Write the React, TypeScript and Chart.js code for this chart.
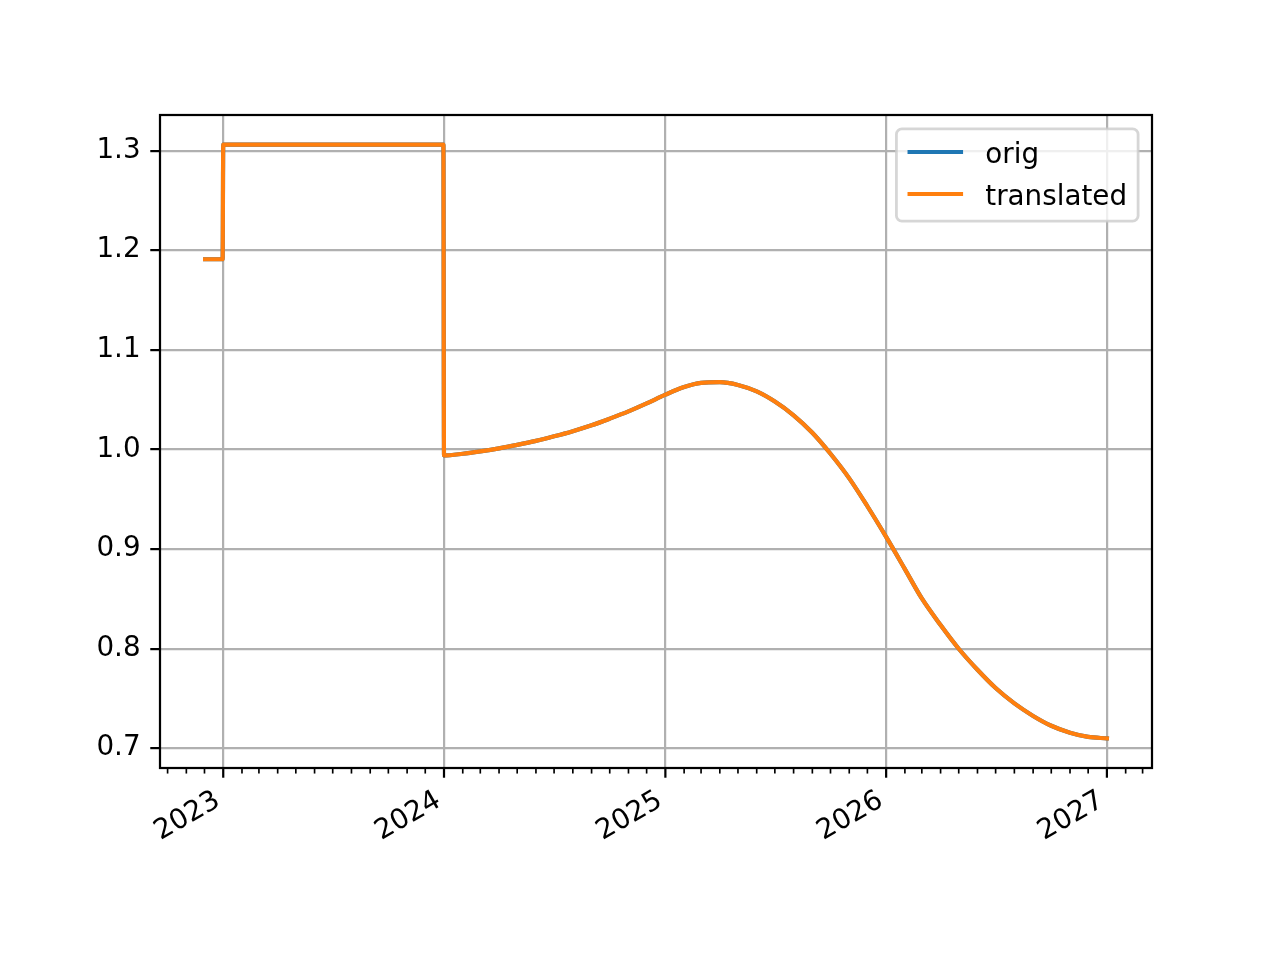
import React, { useEffect, useRef } from "react";
import { Chart, registerables } from "chart.js";

Chart.register(...registerables);

// ---- data ----
const dates = [
  "2022-12-02", "2022-12-31", "2023-01-01", "2023-12-31",
  "2024-01-01", "2024-02-01", "2024-03-01", "2024-04-01", "2024-05-01", "2024-06-01",
  "2024-07-01", "2024-08-01", "2024-09-01", "2024-10-01", "2024-11-01", "2024-12-01",
  "2025-01-01", "2025-02-01", "2025-03-01", "2025-04-01", "2025-05-01", "2025-06-01",
  "2025-07-01", "2025-08-01", "2025-09-01", "2025-10-01", "2025-11-01", "2025-12-01",
  "2026-01-01", "2026-02-01", "2026-03-01", "2026-04-01", "2026-05-01", "2026-06-01",
  "2026-07-01", "2026-08-01", "2026-09-01", "2026-10-01", "2026-11-01", "2026-12-01",
  "2027-01-01",
];

const origValues = [
  1.191, 1.191, 1.306, 1.306,
  0.994, 0.9957, 0.9981, 1.0011, 1.0046, 1.0086,
  1.0132, 1.0184, 1.0243, 1.0309, 1.0382, 1.0462,
  1.055, 1.0627, 1.0669, 1.0676, 1.0648, 1.0583,
  1.0481, 1.0343, 1.0168, 0.9957, 0.971, 0.943,
  0.9122, 0.8799, 0.8504, 0.8237, 0.7999, 0.7788,
  0.7605, 0.7451, 0.7325, 0.7226, 0.7156, 0.7114,
  0.71,
];

const translatedValues = [
  1.191, 1.191, 1.306, 1.306,
  0.994, 0.9957, 0.9981, 1.0011, 1.0046, 1.0086,
  1.0132, 1.0184, 1.0243, 1.0309, 1.0382, 1.0462,
  1.055, 1.0627, 1.0669, 1.0676, 1.0648, 1.0583,
  1.0481, 1.0343, 1.0168, 0.9957, 0.971, 0.943,
  0.9122, 0.8799, 0.8504, 0.8237, 0.7999, 0.7788,
  0.7605, 0.7451, 0.7325, 0.7226, 0.7156, 0.7114,
  0.71,
];

const yTickValues = [0.7, 0.8, 0.9, 1.0, 1.1, 1.2, 1.3];
const seriesNames = ["orig", "translated"];
const seriesColors = ["#1f77b4", "#ff7f0e"];

// ---- styling (matplotlib defaults at 200 dpi) ----
const PT = 200 / 72;
const FS = 10 * PT;
const FONT_FAMILY = "'DejaVu Sans', sans-serif";
const FONT = `${FS}px ${FONT_FAMILY}`;
const GRID_COLOR = "#b0b0b0";

const toMs = (s: string) => Date.parse(s + "T00:00:00Z");
const isJan = (v: number) => new Date(v).getUTCMonth() === 0;

const mplPlugin = {
  id: "mplDecor",
  afterDatasetsDraw(chart: any) {
    const ctx: CanvasRenderingContext2D = chart.ctx;
    const area = chart.chartArea;
    const xScale = chart.scales.x;
    const monthTicks: number[] = chart.$monthTicks || [];

    ctx.save();
    // spines
    ctx.strokeStyle = "#000";
    ctx.lineWidth = 0.8 * PT;
    ctx.strokeRect(area.left, area.top, area.right - area.left, area.bottom - area.top);

    // x tick marks (major = January, minor = other months)
    for (const v of monthTicks) {
      const px = xScale.getPixelForValue(v);
      const major = isJan(v);
      ctx.beginPath();
      ctx.lineWidth = major ? 0.8 * PT : 0.6 * PT;
      ctx.moveTo(px, area.bottom);
      ctx.lineTo(px, area.bottom + (major ? 3.5 * PT : 2 * PT));
      ctx.stroke();
    }

    // x tick labels, rotated 30deg, ha=right like autofmt_xdate
    ctx.font = FONT;
    ctx.fillStyle = "#000";
    ctx.textAlign = "right";
    ctx.textBaseline = "alphabetic";
    const boxH = 0.968 * FS;
    const ascent = 0.76 * FS;
    const ang = (30 * Math.PI) / 180;
    for (const v of monthTicks) {
      if (!isJan(v)) continue;
      const px = xScale.getPixelForValue(v);
      const ay = area.bottom + 3.5 * PT + 3.5 * PT;
      ctx.save();
      ctx.translate(px - boxH * Math.sin(ang), ay);
      ctx.rotate(-ang);
      ctx.fillText(String(new Date(v).getUTCFullYear()), 1.5, ascent);
      ctx.restore();
    }

    // legend (upper right, inside axes)
    const pad = 0.4 * FS;
    const handleLen = 2 * FS;
    const handleTextPad = 0.8 * FS;
    const labelSpacing = 0.5 * FS;
    const axesPad = 0.5 * FS;
    const rowH = 28.1;
    let textW = 0;
    for (const n of seriesNames) textW = Math.max(textW, ctx.measureText(n).width);
    const boxW = 2 * pad + handleLen + handleTextPad + textW;
    const boxHgt = 2 * pad + seriesNames.length * rowH + (seriesNames.length - 1) * labelSpacing;
    const bx = area.right - axesPad - boxW;
    const by = area.top + axesPad;
    const r = 0.2 * FS;
    ctx.beginPath();
    ctx.moveTo(bx + r, by);
    ctx.lineTo(bx + boxW - r, by);
    ctx.arcTo(bx + boxW, by, bx + boxW, by + r, r);
    ctx.lineTo(bx + boxW, by + boxHgt - r);
    ctx.arcTo(bx + boxW, by + boxHgt, bx + boxW - r, by + boxHgt, r);
    ctx.lineTo(bx + r, by + boxHgt);
    ctx.arcTo(bx, by + boxHgt, bx, by + boxHgt - r, r);
    ctx.lineTo(bx, by + r);
    ctx.arcTo(bx, by, bx + r, by, r);
    ctx.closePath();
    ctx.fillStyle = "rgba(255,255,255,0.8)";
    ctx.fill();
    ctx.strokeStyle = "rgba(204,204,204,0.8)";
    ctx.lineWidth = 1.0 * PT;
    ctx.stroke();

    ctx.textAlign = "left";
    ctx.textBaseline = "alphabetic";
    seriesNames.forEach((name, i) => {
      const rowTop = by + pad + i * (rowH + labelSpacing);
      const lx = bx + pad;
      ctx.beginPath();
      ctx.strokeStyle = seriesColors[i];
      ctx.lineWidth = 1.5 * PT;
      ctx.lineCap = "butt";
      ctx.moveTo(lx, rowTop + 12);
      ctx.lineTo(lx + handleLen, rowTop + 12);
      ctx.stroke();
      ctx.fillStyle = "#000";
      ctx.fillText(name, lx + handleLen + handleTextPad, rowTop + 23);
    });
    ctx.restore();
  },
};

export default function App() {
  const ref = useRef<HTMLCanvasElement | null>(null);

  useEffect(() => {
    document.body.style.margin = "0";
    const canvas = ref.current;
    if (!canvas) return;

    const xs = dates.map(toMs);
    const x0 = Math.min(...xs);
    const x1 = Math.max(...xs);
    const xMin = x0 - 0.05 * (x1 - x0);
    const xMax = x1 + 0.05 * (x1 - x0);
    const allY = [...origValues, ...translatedValues];
    const y0 = Math.min(...allY);
    const y1 = Math.max(...allY);
    const yMin = y0 - 0.05 * (y1 - y0);
    const yMax = y1 + 0.05 * (y1 - y0);

    const monthTicks: number[] = [];
    const start = new Date(xMin);
    let yy = start.getUTCFullYear();
    let mm = start.getUTCMonth() + 1;
    while (true) {
      if (mm > 11) { mm = 0; yy += 1; }
      const t = Date.UTC(yy, mm, 1);
      if (t > xMax) break;
      if (t >= xMin) monthTicks.push(t);
      mm += 1;
    }

    const makeDataset = (i: number, values: number[], order: number) => ({
      label: seriesNames[i],
      data: xs.map((x, k) => ({ x, y: values[k] })),
      borderColor: seriesColors[i],
      backgroundColor: seriesColors[i],
      borderWidth: 1.5 * PT,
      pointRadius: 0,
      fill: false,
      cubicInterpolationMode: "monotone",
      borderCapStyle: "square",
      borderJoinStyle: "round",
      order,
    });

    const chart: any = new Chart(canvas, {
      type: "line",
      data: {
        datasets: [makeDataset(0, origValues, 1), makeDataset(1, translatedValues, 0)] as any,
      },
      options: {
        animation: false,
        responsive: false,
        devicePixelRatio: 1,
        layout: { padding: { top: 115, right: 128, left: 0, bottom: 0 } },
        plugins: { legend: { display: false }, tooltip: { enabled: false }, title: { display: false } },
        scales: {
          x: {
            type: "linear",
            min: xMin,
            max: xMax,
            afterFit: (s: any) => { s.height = 192; },
            afterBuildTicks: (s: any) => { s.ticks = monthTicks.map((v) => ({ value: v })); },
            ticks: { display: false, autoSkip: false },
            grid: {
              color: (c: any) => (c.tick && isJan(c.tick.value) ? GRID_COLOR : "rgba(0,0,0,0)"),
              lineWidth: 0.8 * PT,
              drawTicks: false,
            },
            border: { display: false },
          },
          y: {
            type: "linear",
            min: yMin,
            max: yMax,
            afterFit: (s: any) => { s.width = 160; },
            afterBuildTicks: (s: any) => { s.ticks = yTickValues.map((v) => ({ value: v })); },
            ticks: {
              callback: (v: any) => Number(v).toFixed(1),
              color: "#000",
              font: { family: FONT_FAMILY, size: FS },
              padding: 3.5 * PT,
              autoSkip: false,
            },
            grid: {
              color: GRID_COLOR,
              lineWidth: 0.8 * PT,
              tickLength: 3.5 * PT,
              tickColor: "#000",
              tickWidth: 0.8 * PT,
            },
            border: { display: false },
          },
        },
      },
      plugins: [mplPlugin],
    });
    chart.$monthTicks = monthTicks;
    chart.draw();

    return () => chart.destroy();
  }, []);

  return (
    <div style={{ width: 1280, height: 960, background: "#fff" }}>
      <canvas ref={ref} width={1280} height={960} style={{ display: "block" }} />
    </div>
  );
}
